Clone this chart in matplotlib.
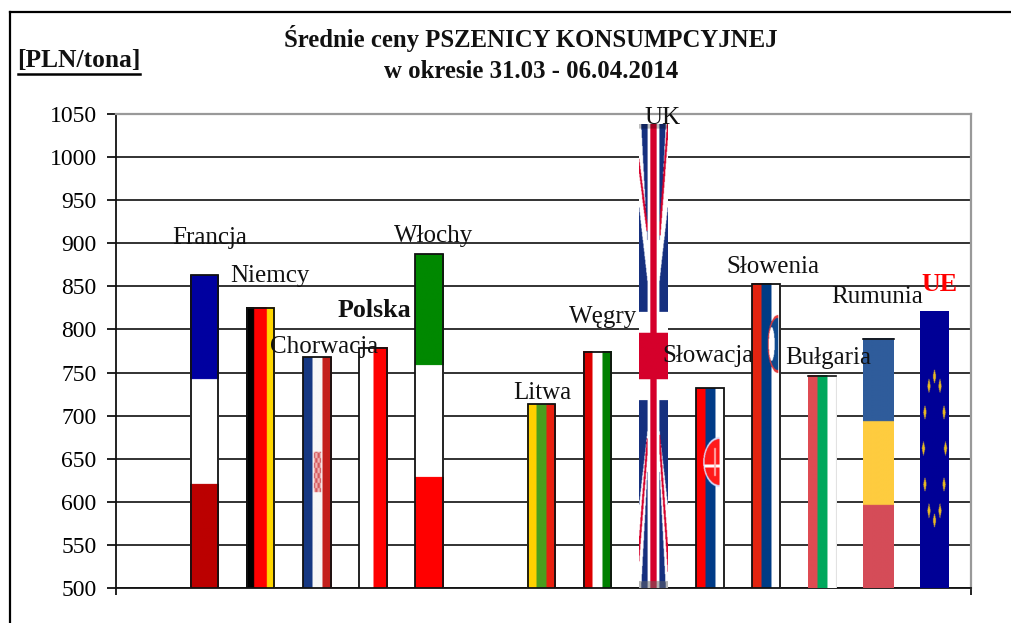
# -*- coding: utf-8 -*-
# Srednie ceny pszenicy konsumpcyjnej - slupki w barwach flag
import numpy as np
import matplotlib
matplotlib.use('Agg')
import matplotlib.pyplot as plt
from matplotlib.colors import to_rgb
from matplotlib.lines import Line2D

plt.rcParams['font.family'] = ['Liberation Serif', 'DejaVu Serif']

# Dane
kraje = ['Francja', 'Niemcy', 'Chorwacja', 'Polska', 'Włochy', '',
         'Litwa', 'Węgry', 'UK', 'Słowacja', 'Słowenia', 'Bułgaria', 'Rumunia', 'UE']
ceny = [863, 825, 768, 779, 887, None, 713, 774, 1038, 732, 853, 746, 789, 821]
yticks = list(range(500, 1051, 50))
tytul = 'Średnie ceny PSZENICY KONSUMPCYJNEJ\nw okresie 31.03 - 06.04.2014'
jednostka = '[PLN/tona]'

# Przesuniecie etykiet wzgledem wierzcholka slupka (piksele)
etykiety_dx = [5, 9, 7, 1, 4, 0, 1, 6, 9, -2, 7, 6, -1, 5]
etykiety_dy = [37, 32, 10, 37, 18, 0, 11, 35, 6, 32, 17, 18, 42, 27]

W, H = 64, 400


def pasy(kierunek, kolory, udzialy=None):
    if udzialy is None:
        udzialy = [1] * len(kolory)
    n = H if kierunek == 'h' else W
    granice = np.cumsum(udzialy) / sum(udzialy) * n
    idx = np.searchsorted(granice, np.arange(n) + 0.5)
    rgb = np.array([to_rgb(k) for k in kolory])[idx]
    if kierunek == 'h':
        return np.repeat(rgb[:, None, :], W, axis=1)
    return np.repeat(rgb[None, :, :], H, axis=0)


def siatka():
    u, v = np.meshgrid((np.arange(W) + 0.5) / W, (np.arange(H) + 0.5) / H)
    return u, v


def flaga_uk():
    u, v = np.meshgrid(np.linspace(-1, 1, W), np.linspace(1, -1, H))
    au, av = np.abs(u), np.abs(v)
    img = np.ones((H, W, 3)) * np.array(to_rgb('#16307F'))
    bialy = np.array([1, 1, 1.0])
    czerw = np.array(to_rgb('#D5002B'))
    # przekatne
    gora = 1 + (au - 0.86) * 1.154
    dol = 0.64 + (au - 1) * 0.547
    img[(av < gora) & (av > dol)] = bialy
    # czerwone paski przekatnych, inne w kazdej cwiartce
    cw = [(u < 0) & (v > 0), (u > 0) & (v > 0), (u < 0) & (v < 0), (u > 0) & (v < 0)]
    linie = [(0.82, 0.54, 0.42), (0.99, 0.52, 0.42), (0.83, 0.355, 0.40), (0.87, 0.34, 0.40)]
    for maska, (v1, v0, u0) in zip(cw, linie):
        u_linii = u0 + (av - v0) * (1 - u0) / (v1 - v0)
        img[maska & (np.abs(au - u_linii) < 0.07) & (av > v0)] = czerw
    # krzyz
    img[au < 0.42] = bialy
    img[av < 0.19] = bialy
    img[au < 0.23] = czerw
    img[av < 0.10] = czerw
    img[:4] = img[:4] * 0.75
    img[-6:] = img[-6:] * 0.5 + 0.2
    return img


def flaga_hr():
    img = pasy('v', ['#163882', '#F7F7F7', '#C4201C'])
    u, v = siatka()
    maska = (np.abs(u - 0.5) < 0.13) & (v > 0.41) & (v < 0.585)
    krata = ((u * 28).astype(int) // 2 + (v * 229).astype(int) // 5) % 2 == 0
    img[maska & krata] = to_rgb('#D45A5F')
    img[maska & ~krata] = to_rgb('#EDB4B4')
    return img


def flaga_sk():
    img = pasy('v', ['#FF0000', '#003C88', '#FFFFFF'])
    u, v = siatka()
    e = ((u - 0.82) / 0.57) ** 2 + ((v - 0.37) / 0.125) ** 2
    img[(e < 1) & (u < 0.82)] = (0.85, 0.88, 1)
    tarcza = (e < 0.85) & (u < 0.82)
    img[tarcza] = to_rgb('#FF1A1A')
    img[tarcza & (np.abs(v - 0.39) < 0.008)] = (1, 1, 1)
    img[tarcza & (np.abs(u - 0.66) < 0.03) & (np.abs(v - 0.37) < 0.07)] = (1, 0.7, 0.7)
    return img


def flaga_si():
    img = pasy('v', ['#E32410', '#003C85', '#FFFFFF'])
    u, v = siatka()
    e = ((u - 0.9) / 0.36) ** 2 + ((v - 0.2) / 0.095) ** 2
    img[(e < 1) & (u < 0.9)] = to_rgb('#E0393A')
    img[(e < 0.82) & (u < 0.9)] = to_rgb('#0F4A8E')
    img[(((u - 0.68) / 0.1) ** 2 + ((v - 0.2) / 0.055) ** 2 < 1)] = (1, 1, 1)
    return img


def flaga_ue():
    img = np.ones((H, W, 3)) * np.array(to_rgb('#000096'))
    u, v = siatka()
    for k in range(12):
        kat = np.deg2rad(30 * k)
        u0 = 0.5 + 0.38 * np.sin(kat)
        v0 = 0.496 - 0.26 * np.cos(kat)
        img[np.abs(u - u0) / 0.055 + np.abs(v - v0) / 0.028 < 1] = to_rgb('#E8B923')
    return img


flagi = [
    pasy('h', ['#0000A0', '#FFFFFF', '#BB0000']),
    pasy('v', ['#000000', '#FF0000', '#FFD700'], [8, 12, 8]),
    flaga_hr(),
    pasy('v', ['#FFFFFF', '#FF0000']),
    pasy('h', ['#008800', '#FFFFFF', '#FF0000']),
    None,
    pasy('v', ['#FFD100', '#4A9E1E', '#E8200F']),
    pasy('v', ['#DD0000', '#FFFFFF', '#008000']),
    flaga_uk(),
    flaga_sk(),
    flaga_si(),
    pasy('v', ['#DF4B52', '#00A85C', '#FFFFFF', '#DDDDDD'], [10, 10, 9, 1]),
    pasy('h', ['#2F5C9B', '#FECC3F', '#D54C58']),
    flaga_ue(),
]
obwod = [True, True, True, True, True, False, True, True, False, True, True, False, False, False]
linia_gorna = ['Bułgaria', 'Rumunia']
szer = [0.508] * len(kraje)
szer[kraje.index('Rumunia')] = 0.55

fig = plt.figure(figsize=(10.11, 6.23), dpi=100)
ax = fig.add_axes([116 / 1011, 35 / 623, 855 / 1011, 474 / 623])

for i, (kraj, cena) in enumerate(zip(kraje, ceny)):
    if cena is None:
        continue
    s = szer[i]
    ax.imshow(flagi[i], extent=(i - s / 2, i + s / 2, 500, cena), aspect='auto',
              interpolation='bilinear', zorder=3)
    if obwod[i]:
        ax.bar(i, cena - 500, width=s - 0.02, bottom=500, fill=False,
               edgecolor='#111111', linewidth=1.3, zorder=4)
    if kraj in linia_gorna:
        ax.plot([i - s / 2, i + s / 2], [cena, cena], color='#111111', linewidth=1.2, zorder=4)
    wyr = kraj in ('Polska', 'UE')
    ax.annotate(kraj, xy=(i, cena), xytext=(etykiety_dx[i], etykiety_dy[i]),
                textcoords='offset pixels', ha='center', va='center',
                fontsize=18.7 if wyr else 18, color='red' if kraj == 'UE' else '#111111',
                fontweight='bold' if wyr else 'normal', zorder=5)

ax.set_xlim((116 - 204.5) / 56.15, (971 - 204.5) / 56.15)
ax.set_ylim(500, 1050)
ax.set_yticks(yticks)
ax.tick_params(axis='y', length=6.5, width=1.3, labelsize=17, pad=7.5, color='#111111')
ax.set_xticks([ax.get_xlim()[0], ax.get_xlim()[1]])
ax.set_xticklabels(['', ''])
ax.tick_params(axis='x', length=5, width=1.3, color='#111111')
ax.grid(axis='y', color='#222222', linewidth=1.3, zorder=1)
ax.set_axisbelow(True)
for s in ['left', 'bottom']:
    ax.spines[s].set_color('#111111')
    ax.spines[s].set_linewidth(1.3)
for s in ['top', 'right']:
    ax.spines[s].set_color('#999999')
    ax.spines[s].set_linewidth(1.6)

fig.text(531 / 1011, 1 - 54 / 623, tytul, ha='center', va='center', fontsize=17.8,
         fontweight='bold', linespacing=1.4, color='#111111')
fig.text(79 / 1011, 1 - 60 / 623, jednostka, ha='center', va='center', fontsize=18.4,
         fontweight='bold', color='#111111')
fig.add_artist(Line2D([18 / 1011, 140 / 1011], [1 - 74 / 623] * 2, color='black', linewidth=1.8))

# Ramka zewnetrzna
fig.add_artist(Line2D([10 / 1011, 10 / 1011], [0, 1 - 12 / 623], color='black', linewidth=1.6))
fig.add_artist(Line2D([10 / 1011, 1], [1 - 12 / 623] * 2, color='black', linewidth=1.6))

fig.savefig('out.png', dpi=100)
